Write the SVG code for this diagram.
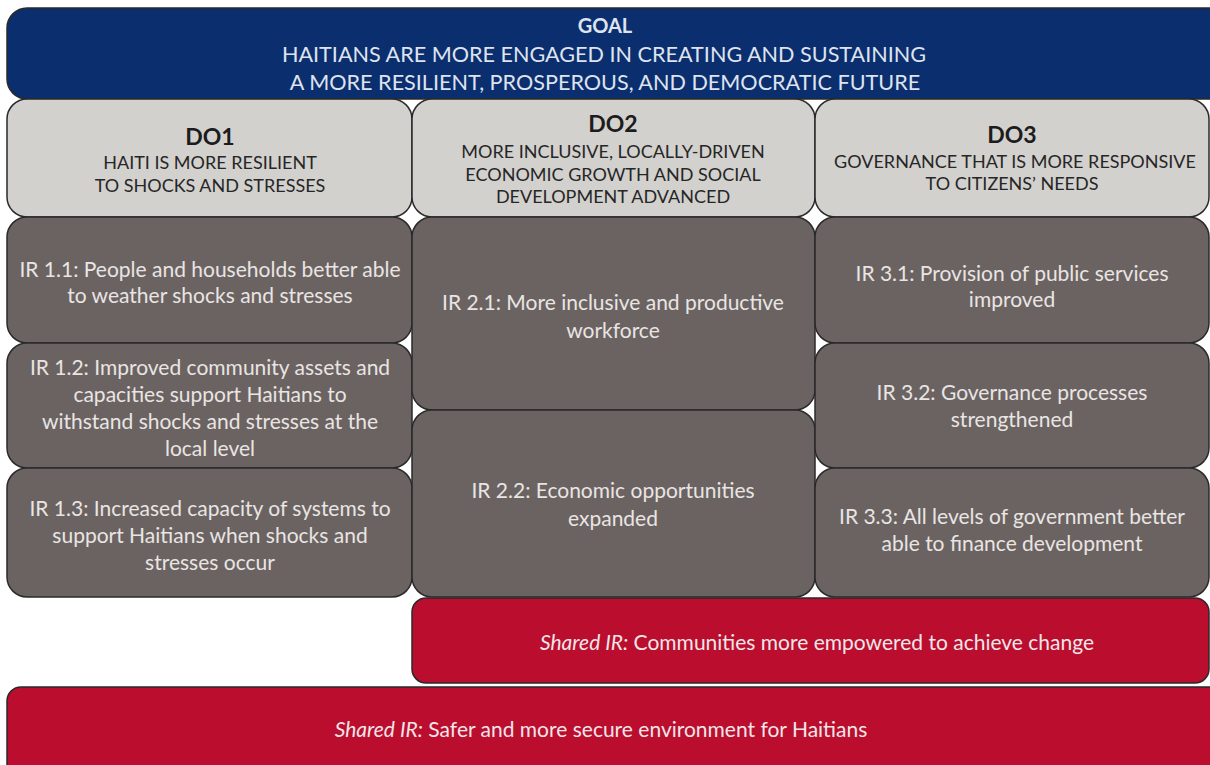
<svg xmlns="http://www.w3.org/2000/svg" width="1210" height="765" viewBox="0 0 1210 765">
  <style>
    .box { stroke: #2b2a2a; stroke-width: 1.5; }
    .goal { fill: #0b2e6e; }
    .do { fill: #d3d1ce; }
    .ir { fill: #6b6362; }
    .shared { fill: #bb0d2e; }
    text { font-family: "Lato", "Open Sans", sans-serif; text-anchor: middle; }
    .goal-t { fill: #dfe3ee; font-size: 21.6px; }
    .goal-h { font-weight: bold; font-size: 20px; }
    .do-h { fill: #1c1c1c; font-size: 23px; font-weight: bold; }
    .do-t { fill: #262626; font-size: 18px; }
    .ir-t { fill: #e9e5e3; font-size: 21px; }
    .sh-t { fill: #f1e6e8; font-size: 21px; }
    .it { font-style: italic; }
  </style>
  <rect width="1210" height="765" fill="#ffffff"/>

  <!-- Goal banner -->
  <g id="goal">
    <rect class="box goal" x="7" y="8" width="1230" height="91" rx="20" ry="20"/>
    <text class="goal-t goal-h" x="605" y="33">GOAL</text>
    <text class="goal-t" x="604" y="62">HAITIANS ARE MORE ENGAGED IN CREATING AND SUSTAINING</text>
    <text class="goal-t" x="605" y="90">A MORE RESILIENT, PROSPEROUS, AND DEMOCRATIC FUTURE</text>
  </g>

  <!-- Development objectives -->
  <g id="do1">
    <rect class="box do" x="7" y="99" width="405" height="118" rx="20" ry="20"/>
    <text class="do-h" x="210" y="145">DO1</text>
    <text class="do-t" x="210" y="169">HAITI IS MORE RESILIENT</text>
    <text class="do-t" x="210" y="192">TO SHOCKS AND STRESSES</text>
  </g>
  <g id="do2">
    <rect class="box do" x="412" y="99" width="403" height="118" rx="20" ry="20"/>
    <text class="do-h" x="613" y="132">DO2</text>
    <text class="do-t" x="613" y="158">MORE INCLUSIVE, LOCALLY-DRIVEN</text>
    <text class="do-t" x="613" y="181">ECONOMIC GROWTH AND SOCIAL</text>
    <text class="do-t" x="613" y="203">DEVELOPMENT ADVANCED</text>
  </g>
  <g id="do3">
    <rect class="box do" x="815" y="99" width="394" height="118" rx="20" ry="20"/>
    <text class="do-h" x="1012" y="143">DO3</text>
    <text class="do-t" x="1015" y="168">GOVERNANCE THAT IS MORE RESPONSIVE</text>
    <text class="do-t" x="1012" y="190">TO CITIZENS’ NEEDS</text>
  </g>

  <!-- Intermediate results, column 1 -->
  <g id="ir11">
    <rect class="box ir" x="7" y="217" width="405" height="126" rx="20" ry="20"/>
    <text class="ir-t" x="210" y="277">IR 1.1: People and households better able</text>
    <text class="ir-t" x="210" y="303">to weather shocks and stresses</text>
  </g>
  <g id="ir12">
    <rect class="box ir" x="7" y="343" width="405" height="125" rx="20" ry="20"/>
    <text class="ir-t" x="210" y="375">IR 1.2: Improved community assets and</text>
    <text class="ir-t" x="210" y="402">capacities support Haitians to</text>
    <text class="ir-t" x="210" y="429">withstand shocks and stresses at the</text>
    <text class="ir-t" x="210" y="456">local level</text>
  </g>
  <g id="ir13">
    <rect class="box ir" x="7" y="468" width="405" height="129" rx="20" ry="20"/>
    <text class="ir-t" x="210" y="516">IR 1.3: Increased capacity of systems to</text>
    <text class="ir-t" x="210" y="543">support Haitians when shocks and</text>
    <text class="ir-t" x="210" y="570">stresses occur</text>
  </g>

  <!-- Intermediate results, column 2 -->
  <g id="ir21">
    <rect class="box ir" x="412" y="217" width="403" height="193" rx="20" ry="20"/>
    <text class="ir-t" x="613" y="310">IR 2.1: More inclusive and productive</text>
    <text class="ir-t" x="613" y="338">workforce</text>
  </g>
  <g id="ir22">
    <rect class="box ir" x="412" y="410" width="403" height="187" rx="20" ry="20"/>
    <text class="ir-t" x="613" y="498">IR 2.2: Economic opportunities</text>
    <text class="ir-t" x="613" y="526">expanded</text>
  </g>

  <!-- Intermediate results, column 3 -->
  <g id="ir31">
    <rect class="box ir" x="815" y="217" width="394" height="126" rx="20" ry="20"/>
    <text class="ir-t" x="1012" y="281">IR 3.1: Provision of public services</text>
    <text class="ir-t" x="1012" y="307">improved</text>
  </g>
  <g id="ir32">
    <rect class="box ir" x="815" y="343" width="394" height="125" rx="20" ry="20"/>
    <text class="ir-t" x="1012" y="400">IR 3.2: Governance processes</text>
    <text class="ir-t" x="1012" y="427">strengthened</text>
  </g>
  <g id="ir33">
    <rect class="box ir" x="815" y="468" width="394" height="129" rx="20" ry="20"/>
    <text class="ir-t" x="1012" y="524">IR 3.3: All levels of government better</text>
    <text class="ir-t" x="1012" y="551">able to finance development</text>
  </g>

  <!-- Shared intermediate results -->
  <g id="shared-communities">
    <rect class="box shared" x="412" y="598" width="797" height="85" rx="14" ry="14"/>
    <text class="sh-t" x="817" y="650"><tspan class="it">Shared IR:</tspan> Communities more empowered to achieve change</text>
  </g>
  <g id="shared-security">
    <rect class="box shared" x="7" y="687" width="1230" height="100" rx="14" ry="14"/>
    <text class="sh-t" x="601" y="737"><tspan class="it">Shared IR:</tspan> Safer and more secure environment for Haitians</text>
  </g>

  <!-- No connectors: the chart is a grid of adjoining boxes -->
  <g id="connectors"/>
</svg>
